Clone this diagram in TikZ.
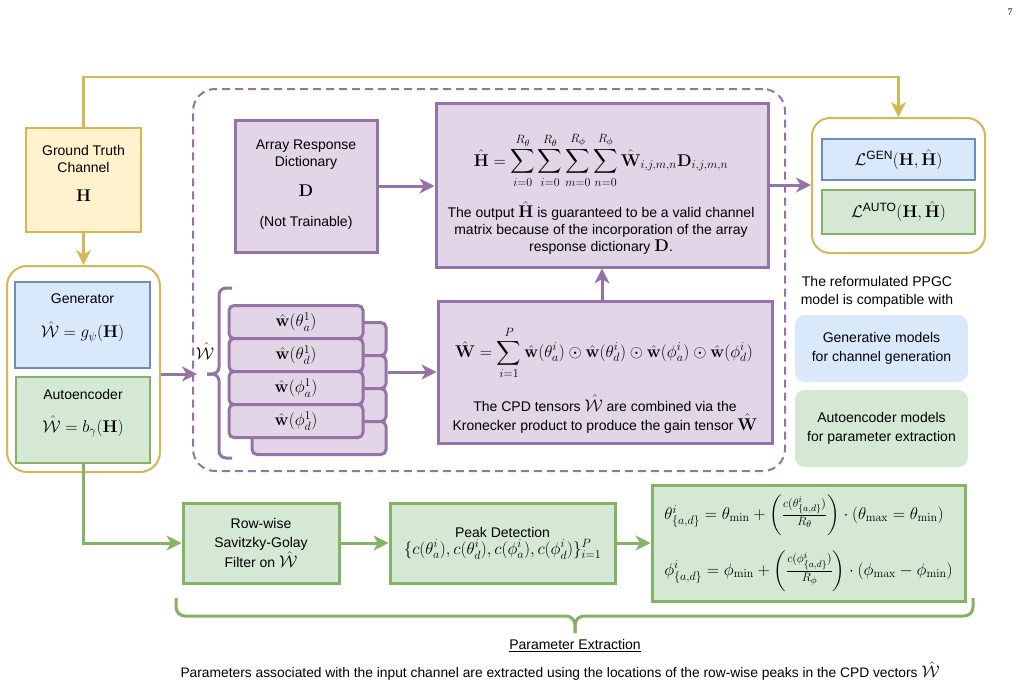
\RequirePackage{fix-cm}
\documentclass[tikz,border=0pt]{standalone}
\usepackage{amsmath,amssymb}
\usepackage[no-math]{fontspec}
\setmainfont{Liberation Sans}
\newfontfamily\pgnumfont{Liberation Serif}
\DeclareMathSizes{14}{17}{12}{9.5}
\DeclareMathSizes{13.8}{16.8}{11.8}{9.3}
\usetikzlibrary{arrows.meta}
\definecolor{ylwF}{HTML}{FFF2CC}
\definecolor{ylwD}{HTML}{D6B656}
\definecolor{bluF}{HTML}{DAE8FC}
\definecolor{bluD}{HTML}{6C8EBF}
\definecolor{grnF}{HTML}{D5E8D4}
\definecolor{grnD}{HTML}{82B366}
\definecolor{purF}{HTML}{E1D5E7}
\definecolor{purD}{HTML}{9673A6}
\tikzset{
  txt/.style={font=\fontsize{14}{17}\selectfont, align=center, inner sep=0pt, text=black},
  sz/.style 2 args={minimum width=#1pt, minimum height=#2pt, inner sep=0pt},
  ybox/.style={txt, draw=ylwD, fill=ylwF, line width=1.5pt},
  bbox/.style={txt, draw=bluD, fill=bluF, line width=1.5pt},
  gbox/.style={txt, draw=grnD, fill=grnF, line width=1.5pt},
  gthick/.style={txt, draw=grnD, fill=grnF, line width=3pt},
  pbox/.style={txt, draw=purD, fill=purF, line width=3pt},
  stackbox/.style={pbox, rounded corners=5pt, minimum width=134pt, minimum height=33pt},
  goldc/.style={draw=ylwD, fill=white, line width=2pt, rounded corners=20pt, inner sep=0pt},
  softbox/.style={txt, fill=#1, rounded corners=10pt},
  tip/.style={-{Stealth[length=15pt,width=15pt,inset=4.5pt]}},
  parr/.style={draw=purD, line width=3pt, tip},
  garr/.style={draw=grnD, line width=3pt, tip},
  yarr/.style={draw=ylwD, line width=2.5pt, tip},
}
\begin{document}
\begin{tikzpicture}[x=1pt,y=-1pt]
\useasboundingbox (0,0) rectangle (1030,689);
\fill[white] (0,0) rectangle (1030,689);

% page number
\node[font=\pgnumfont\fontsize{10}{11}\selectfont, inner sep=0pt] (pgnum) at (1010,12) {7};

% dashed container
\node[draw=purD, line width=2pt, dash pattern=on 8pt off 5pt, rounded corners=22pt, sz={592}{382}] (dash) at (489,280) {};

% ground truth
\node[ybox, sz={115}{104}] (gt) at (83.5,180) {};
\node[txt] (gtT) at (83.5,173) {Ground Truth\\Channel\\[12pt]$\mathbf{H}$};

% left container
\node[goldc, sz={153}{206}] (leftc) at (83.5,369) {};
\node[bbox, sz={135}{86}] (gen) at (82.5,325) {};
\node[txt] (genT) at (82.5,318) {Generator\\[17pt]$\hat{\mathcal{W}} = g_{\psi}(\mathbf{H})$};
\node[gbox, sz={134}{86}] (auto) at (83,420) {};
\node[txt] (autoT) at (83,413) {Autoencoder\\[16pt]$\hat{\mathcal{W}} = b_{\gamma}(\mathbf{H})$};

% array response dictionary
\node[pbox, sz={142}{132}] (arr) at (306,186) {};
\node[txt] (arrT) at (306,185) {Array Response\\Dictionary\\[13pt]$\mathbf{D}$\\[13pt](Not Trainable)};

% H hat box
\node[pbox, sz={332}{164}] (hbox) at (602,185) {};
\node[txt] (hF) at (601,160) {$\displaystyle \hat{\mathbf{H}} = \sum_{i=0}^{R_\theta}\sum_{i=0}^{R_\theta}\sum_{m=0}^{R_\phi}\sum_{n=0}^{R_\phi}\hat{\mathbf{W}}_{i,j,m,n}\mathbf{D}_{i,j,m,n}$};
\node[txt] (hT) at (601,228) {The output $\hat{\mathbf{H}}$ is guaranteed to be a valid channel\\matrix because of the incorporation of the array\\response dictionary $\mathbf{D}$.};

% W hat box
\node[pbox, sz={334}{142}] (wbox) at (605,372) {};
\node[txt] (wF) at (604,353) {$\displaystyle \hat{\mathbf{W}} = \sum_{i=1}^{P}\hat{\mathbf{w}}(\theta_a^i)\odot\hat{\mathbf{w}}(\theta_d^i)\odot\hat{\mathbf{w}}(\phi_a^i)\odot\hat{\mathbf{w}}(\phi_d^i)$};
\node[txt] (wT) at (605,414) {The CPD tensors $\hat{\mathcal{W}}$ are combined via the\\[2pt]Kronecker product to produce the gain tensor $\hat{\mathbf{W}}$};

% CPD stack
\node[stackbox] (sb1) at (319,339) {};
\node[stackbox] (sb2) at (319,372) {};
\node[stackbox] (sb3) at (319,405) {};
\node[stackbox] (sb4) at (319,438) {};
\node[stackbox] (sf1) at (296,322) {$\hat{\mathbf{w}}(\theta_a^1)$};
\node[stackbox] (sf2) at (296,355) {$\hat{\mathbf{w}}(\theta_d^1)$};
\node[stackbox] (sf3) at (296,388) {$\hat{\mathbf{w}}(\phi_a^1)$};
\node[stackbox] (sf4) at (296,421) {$\hat{\mathbf{w}}(\phi_d^1)$};

% brace and W label
\coordinate (btip) at (207,374);
\coordinate (whatin) at (197,374);
\draw[draw=purD, line width=3pt, rounded corners=7pt] (232,288) -- (219,288) -- (219,374) -- (btip);
\draw[draw=purD, line width=3pt, rounded corners=7pt] (232,458) -- (219,458) -- (219,374) -- (btip);
\node[txt] (what) at (205,351) {$\hat{\mathcal{W}}$};

% loss container
\node[goldc, rounded corners=18pt, sz={173}{135}] (loss) at (898.5,185.5) {};
\node[bbox, sz={153}{41}] (lgen) at (898.5,159.5) {$\mathcal{L}^{\text{GEN}}(\mathbf{H},\hat{\mathbf{H}})$};
\node[gbox, sz={153}{44}] (lauto) at (898.5,212) {$\mathcal{L}^{\text{AUTO}}(\mathbf{H},\hat{\mathbf{H}})$};

% compatibility
\node[txt] (compat) at (877,292) {The reformulated PPGC\\[1.5pt]model is compatible with};
\node[softbox=bluF, sz={173}{67}] (genm) at (881.5,348.5) {Generative models\\[1.5pt]for channel generation};
\node[softbox=grnF, sz={173}{77}] (autom) at (881.5,428.5) {Autoencoder models\\[1.5pt]for parameter extraction};

% bottom row
\node[gthick, sz={156}{80}] (filt) at (261,543) {Row-wise\\[2pt]Savitzky-Golay\\[0pt]Filter on $\hat{\mathcal{W}}$};
\node[gthick, sz={225}{80}] (peak) at (502.5,543) {Peak Detection\\[0pt]$\{c(\theta_a^i),c(\theta_d^i),c(\phi_a^i),c(\phi_d^i)\}_{i=1}^{P}$};
\node[gthick, sz={313}{116}, align=left] (fbox) at (808.5,543) {$\theta^i_{\{a,d\}} = \theta_{\min} + \bigg(\tfrac{c(\theta^i_{\{a,d\}})}{R_\theta}\bigg)\cdot(\theta_{\max} = \theta_{\min})$\\[14pt]$\phi^i_{\{a,d\}} = \phi_{\min} + \bigg(\tfrac{c(\phi^i_{\{a,d\}})}{R_\phi}\bigg)\cdot(\phi_{\max} - \phi_{\min})$};

% bottom brace
\coordinate (bbl) at (176,598);
\coordinate (bbr) at (973,598);
\coordinate (bbt) at (575,633);
\draw[draw=grnD, line width=3pt, rounded corners=9pt] (bbl) -- (176,616) -- (575,616) -- (bbt);
\draw[draw=grnD, line width=3pt, rounded corners=9pt] (bbr) -- (973,616) -- (575,616) -- (bbt);
\node[txt] (pext) at (575,646) {\underline{Parameter Extraction}};
\node[txt, font=\fontsize{13.8}{16}\selectfont] (cap) at (560,671) {Parameters associated with the input channel are extracted using the locations of the row-wise peaks in the CPD vectors $\hat{\mathcal{W}}$};

% connectors
\coordinate (topY) at (0,77);
\draw[yarr] (gt.north) |- (loss.north |- topY) -- (loss.north);
\draw[yarr] (gt.south) -- (leftc.north);
\draw[parr] (leftc.east |- whatin) -- (whatin);
\draw[parr] (sb2.east) -- (sb2.east -| wbox.west);
\draw[parr] (arr.east) -- (arr.east -| hbox.west);
\draw[parr] (hbox.south |- wbox.north) -- (hbox.south);
\draw[parr] (hbox.east) -- (hbox.east -| loss.west);
\draw[garr] (auto.south) |- (filt.west);
\draw[garr] (filt.east) -- (peak.west);
\draw[garr] (peak.east) -- (fbox.west);
\end{tikzpicture}
\end{document}
